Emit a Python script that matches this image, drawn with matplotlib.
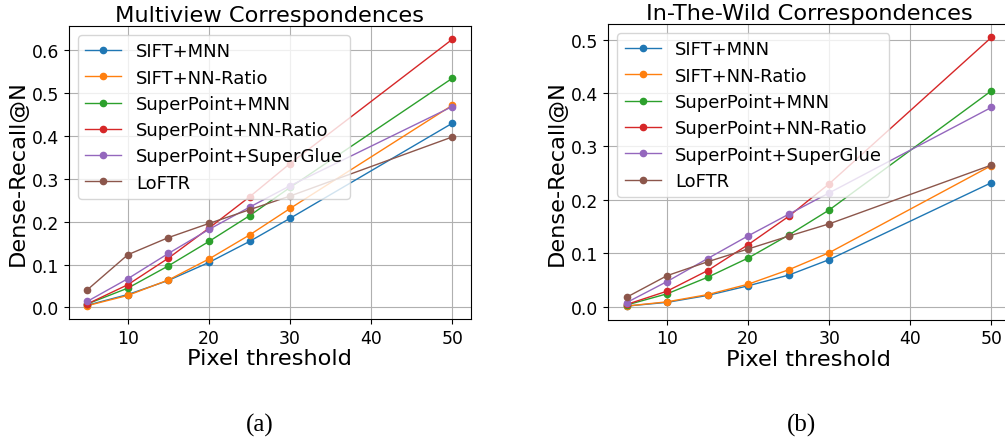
import matplotlib
matplotlib.use("Agg")
import matplotlib.pyplot as plt

thresholds = [5, 10, 15, 20, 25, 30, 50]
methods = ["SIFT+MNN", "SIFT+NN-Ratio", "SuperPoint+MNN", "SuperPoint+NN-Ratio",
           "SuperPoint+SuperGlue", "LoFTR"]

multiview_sift_mnn = [0.005, 0.030, 0.063, 0.105, 0.154, 0.208, 0.430]
multiview_sift_ratio = [0.004, 0.028, 0.064, 0.113, 0.169, 0.231, 0.472]
multiview_sp_mnn = [0.008, 0.045, 0.097, 0.154, 0.214, 0.280, 0.535]
multiview_sp_ratio = [0.008, 0.053, 0.115, 0.185, 0.258, 0.336, 0.626]
multiview_sp_sg = [0.014, 0.067, 0.126, 0.182, 0.234, 0.284, 0.469]
multiview_loftr = [0.041, 0.123, 0.163, 0.196, 0.228, 0.260, 0.398]

wild_sift_mnn = [0.001, 0.008, 0.021, 0.039, 0.059, 0.088, 0.232]
wild_sift_ratio = [0.001, 0.009, 0.0225, 0.042, 0.069, 0.101, 0.264]
wild_sp_mnn = [0.003, 0.024, 0.055, 0.091, 0.134, 0.181, 0.404]
wild_sp_ratio = [0.004, 0.029, 0.0675, 0.116, 0.169, 0.230, 0.504]
wild_sp_sg = [0.0075, 0.047, 0.090, 0.1325, 0.173, 0.213, 0.373]
wild_loftr = [0.0175, 0.058, 0.084, 0.108, 0.132, 0.155, 0.265]

multiview = [multiview_sift_mnn, multiview_sift_ratio, multiview_sp_mnn,
             multiview_sp_ratio, multiview_sp_sg, multiview_loftr]
wild = [wild_sift_mnn, wild_sift_ratio, wild_sp_mnn, wild_sp_ratio,
        wild_sp_sg, wild_loftr]

titles = ["Multiview Correspondences", "In-The-Wild Correspondences"]
captions = ["(a)", "(b)"]

fig = plt.figure(figsize=(10.05, 4.39), dpi=100)
ax1 = fig.add_axes([0.0687, 0.2711, 0.3995, 0.6674])
ax2 = fig.add_axes([0.6053, 0.2699, 0.3992, 0.6730])

for ax, data, title in zip([ax1, ax2], [multiview, wild], titles):
    for name, vals in zip(methods, data):
        ax.plot(thresholds, vals, marker="o", markersize=4.5, linewidth=1.0, label=name)
    ax.grid(True)
    ax.set_axisbelow(True)
    ax.set_title(title, fontsize=16.2, pad=3.5)
    ax.set_xlabel("Pixel threshold", fontsize=16.2, labelpad=1)
    ax.set_ylabel("Dense-Recall@N", fontsize=16.2, labelpad=3)
    ax.tick_params(labelsize=12.4)
    ax.set_xticks([10, 20, 30, 40, 50])
    ax.legend(loc="upper left", fontsize=13, labelspacing=0.46)

fig.text(260 / 1005, 1 - 425 / 439, captions[0], family=["Liberation Serif", "DejaVu Serif"],
         fontsize=18, ha="center", va="center")
fig.text(801 / 1005, 1 - 425 / 439, captions[1], family=["Liberation Serif", "DejaVu Serif"],
         fontsize=18, ha="center", va="center")

fig.savefig("out.png", dpi=100)
